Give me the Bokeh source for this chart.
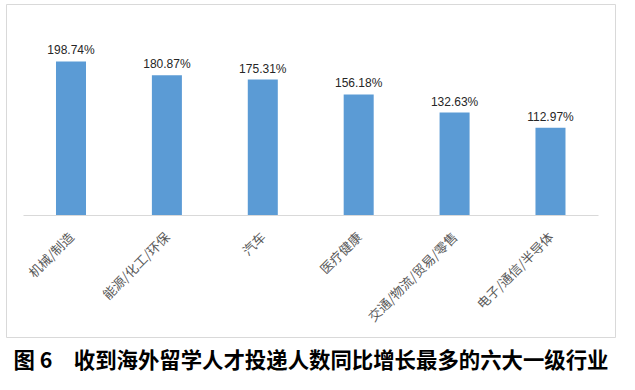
import math
from bokeh.plotting import figure
from bokeh.models import Range1d, FixedTicker, ColumnDataSource, Title
from bokeh.embed import file_html
from bokeh.resources import INLINE
from bokeh.core.properties import value

categories = ["机械/制造", "能源/化工/环保", "汽车", "医疗健康", "交通/物流/贸易/零售", "电子/通信/半导体"]
growth = [198.74, 180.87, 175.31, 156.18, 132.63, 112.97]
value_labels = [f"{v:.2f}%" for v in growth]
title_text = "图 6\u3000收到海外留学人才投递人数同比增长最多的六大一级行业"

n = len(categories)
xs = list(range(n))
src = ColumnDataSource(dict(x=xs, y=growth, label=value_labels))

p = figure(width=619, height=378, output_backend="svg", toolbar_location=None,
           x_range=Range1d(-0.6726, n - 1 + 0.678), y_range=Range1d(-158.1, 272.4),
           min_border_left=6, min_border_right=4, min_border_top=4, min_border_bottom=41)
p.yaxis.visible = False
p.xgrid.visible = False
p.ygrid.visible = False
p.outline_line_color = "#d9d9d9"
p.outline_line_width = 1
p.background_fill_color = "white"
p.border_fill_color = "white"

ax = p.xaxis[0]
ax.ticker = FixedTicker(ticks=xs)
ax.major_label_overrides = {i: c for i, c in enumerate(categories)}
ax.bounds = (-0.5, n - 0.5)
ax.fixed_location = 0
ax.major_label_orientation = math.pi / 4
ax.major_tick_out = 0
ax.major_tick_in = 0
ax.minor_tick_out = 0
ax.minor_tick_in = 0
ax.major_tick_line_color = None
ax.minor_tick_line_color = None
ax.axis_line_color = "#d9d9d9"
ax.axis_line_width = 1
ax.major_label_text_font = "Noto Sans CJK SC"
ax.major_label_text_font_size = "13px"
ax.major_label_text_color = "#595959"
ax.major_label_standoff = 19

p.vbar(x="x", top="y", width=0.313, source=src, fill_color="#5b9bd5", line_color=None)
p.text(x="x", y="y", text="label", source=src, text_align="center", text_baseline="alphabetic",
       y_offset=-11, text_font=value("Liberation Sans"), text_font_size="12px", text_color="#262626")

p.add_layout(Title(text=title_text, align="center", text_font="Noto Sans CJK SC",
                   text_font_size="21.4px", text_font_style="bold", text_color="#000000",
                   standoff=6), "below")

open("out.html", "w").write(file_html(p, INLINE))
